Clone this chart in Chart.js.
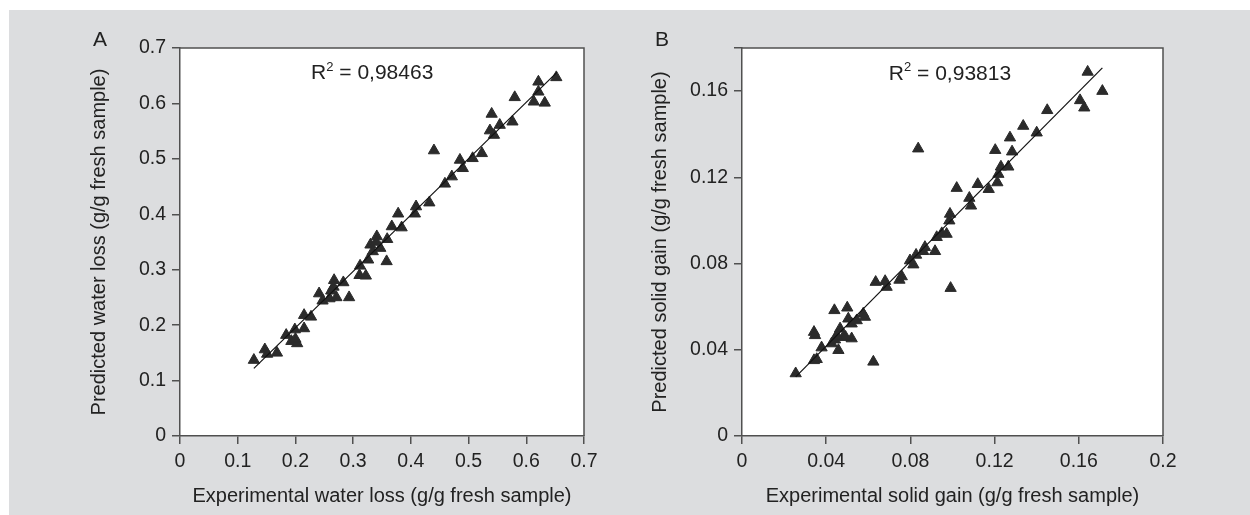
<!DOCTYPE html>
<html>
<head>
<meta charset="utf-8">
<script src="https://cdn.jsdelivr.net/npm/chart.js@4.4.0/dist/chart.umd.min.js"></script>
<style>
  html, body { margin: 0; padding: 0; background: #fff; }
  #bg { position: absolute; left: 9px; top: 10px; width: 1241px; height: 505px; background: #dcdddf; }
  .box { position: absolute; top: 0; width: 625px; height: 515px; }
</style>
</head>
<body>
<div id="bg"></div>
<div class="box" style="left:0"><canvas id="chartA" width="625" height="515"></canvas></div>
<div class="box" style="left:625px"><canvas id="chartB" width="625" height="515"></canvas></div>
<script>
// panel A: water loss
var waterExp = [0.128, 0.147, 0.151, 0.168, 0.184, 0.199, 0.193, 0.203, 0.215, 0.215, 0.227, 0.241, 0.247, 0.259,
  0.267, 0.266, 0.271, 0.283, 0.293, 0.312, 0.311, 0.322, 0.326, 0.330, 0.341, 0.334, 0.347, 0.359, 0.358, 0.367,
  0.378, 0.384, 0.407, 0.409, 0.432, 0.440, 0.459, 0.471, 0.485, 0.490, 0.507, 0.523, 0.537, 0.540, 0.544, 0.554,
  0.576, 0.580, 0.613, 0.621, 0.621, 0.632, 0.652, 0.340, 0.200, 0.262];
var waterPred = [0.137, 0.156, 0.148, 0.150, 0.182, 0.192, 0.171, 0.167, 0.194, 0.218, 0.215, 0.257, 0.244, 0.248,
  0.281, 0.269, 0.250, 0.277, 0.250, 0.307, 0.290, 0.289, 0.318, 0.345, 0.360, 0.333, 0.339, 0.355, 0.315, 0.378,
  0.401, 0.376, 0.401, 0.414, 0.421, 0.515, 0.455, 0.468, 0.498, 0.483, 0.501, 0.510, 0.551, 0.581, 0.543, 0.561,
  0.567, 0.611, 0.603, 0.639, 0.621, 0.601, 0.647, 0.350, 0.175, 0.262];
var waterFitX = [0.128, 0.653];
var waterFitY = [0.122, 0.656];
var waterTicksX = [0, 0.1, 0.2, 0.3, 0.4, 0.5, 0.6, 0.7];
var waterTicksY = [0, 0.1, 0.2, 0.3, 0.4, 0.5, 0.6, 0.7];

// panel B: solid gain
var solidExp = [0.0255, 0.0342, 0.0355, 0.0342, 0.0347, 0.0378, 0.0439, 0.0426, 0.0442, 0.0458, 0.0466, 0.0481,
  0.0500, 0.0505, 0.0521, 0.0521, 0.0545, 0.0576, 0.0584, 0.0624, 0.0635, 0.0680, 0.0687, 0.0748, 0.0759, 0.0798,
  0.0814, 0.0837, 0.0827, 0.0861, 0.0869, 0.0917, 0.0925, 0.0949, 0.0972, 0.0985, 0.0988, 0.0991, 0.1020, 0.1080,
  0.1088, 0.1120, 0.1172, 0.1213, 0.1218, 0.1230, 0.1265, 0.1203, 0.1283, 0.1273, 0.1336, 0.1400, 0.1450, 0.1606,
  0.1626, 0.1642, 0.1712, 0.0450, 0.0492];
var solidPred = [0.0290, 0.0351, 0.0356, 0.0482, 0.0467, 0.0410, 0.0583, 0.0429, 0.0447, 0.0398, 0.0498, 0.0459,
  0.0595, 0.0544, 0.0452, 0.0521, 0.0536, 0.0567, 0.0552, 0.0344, 0.0714, 0.0718, 0.0691, 0.0724, 0.0740, 0.0814,
  0.0795, 0.1333, 0.0840, 0.0857, 0.0876, 0.0857, 0.0922, 0.0940, 0.0937, 0.0999, 0.1030, 0.0686, 0.1150, 0.1104,
  0.1068, 0.1168, 0.1145, 0.1176, 0.1215, 0.1249, 0.1249, 0.1326, 0.1319, 0.1384, 0.1438, 0.1407, 0.1511, 0.1557,
  0.1523, 0.1689, 0.1600, 0.0467, 0.0459];
var solidFitX = [0.0255, 0.1712];
var solidFitY = [0.0274, 0.1708];
var solidTicksX = [0, 0.04, 0.08, 0.12, 0.16, 0.2];
var solidTicksY = [0, 0.04, 0.08, 0.12, 0.16];
var solidMaxY = 0.18;

var textColor = '#222';
var axisColor = '#505050';
var markColor = '#2b2b2b';

Chart.defaults.font.family = '"Liberation Sans", Arial, sans-serif';

function pairs(xs, ys) {
  return xs.map(function (x, i) { return { x: x, y: ys[i] }; });
}

function fmt(v) {
  return v === 0 ? '0' : String(+v.toFixed(2));
}

var framePlugin = {
  id: 'frame',
  beforeDraw: function (chart) {
    var a = chart.chartArea, ctx = chart.ctx;
    ctx.save();
    ctx.fillStyle = '#fff';
    ctx.fillRect(a.left, a.top, a.right - a.left, a.bottom - a.top);
    ctx.restore();
  },
  afterDraw: function (chart) {
    var a = chart.chartArea, ctx = chart.ctx, o = chart.options.plugins.frame;
    ctx.save();
    ctx.strokeStyle = axisColor;
    ctx.lineWidth = 1.5;
    ctx.beginPath();
    ctx.moveTo(a.left, a.top);
    ctx.lineTo(a.right, a.top);
    ctx.lineTo(a.right, a.bottom);
    ctx.stroke();

    ctx.fillStyle = textColor;
    ctx.textBaseline = 'middle';
    ctx.textAlign = 'center';
    ctx.font = '21px "Liberation Sans"';
    ctx.fillText(o.letter, a.left - 80, a.top - 8);

    // R² label
    var px = chart.scales.x.getPixelForValue(o.r2At[0]);
    var py = chart.scales.y.getPixelForValue(o.r2At[1]);
    var big = '21px "Liberation Sans"', small = '13px "Liberation Sans"';
    var rest = ' = ' + o.r2;
    ctx.font = big;
    var wR = ctx.measureText('R').width, wRest = ctx.measureText(rest).width;
    ctx.font = small;
    var w2 = ctx.measureText('2').width;
    var x0 = px - (wR + w2 + wRest) / 2;
    ctx.textAlign = 'left';
    ctx.font = big;
    ctx.fillText('R', x0, py);
    ctx.font = small;
    ctx.fillText('2', x0 + wR, py - 6);
    ctx.font = big;
    ctx.fillText(rest, x0 + wR + w2, py);
    ctx.restore();
  }
};

function axis(ticks, labelled, max, title, titlePad, size) {
  return {
    type: 'linear',
    min: 0,
    max: max,
    afterBuildTicks: function (s) {
      s.ticks = ticks.map(function (v) { return { value: v }; });
    },
    afterFit: function (s) {
      if (s.isHorizontal()) s.height = size; else s.width = size;
    },
    ticks: {
      color: textColor,
      font: { size: 19.5 },
      padding: 6,
      autoSkip: false,
      maxRotation: 0,
      callback: function (v) { return labelled.indexOf(v) < 0 ? '' : fmt(v); }
    },
    grid: { drawOnChartArea: false, drawTicks: true, tickLength: 8, color: axisColor, lineWidth: 1.5 },
    border: { display: true, color: axisColor, width: 1.5 },
    title: { display: true, text: title, color: textColor, font: { size: 20 }, padding: titlePad }
  };
}

function makeChart(id, cfg) {
  return new Chart(document.getElementById(id), {
    type: 'scatter',
    data: {
      datasets: [
        {
          data: pairs(cfg.fitX, cfg.fitY),
          showLine: true,
          borderColor: '#111',
          borderWidth: 1.2,
          pointRadius: 0
        },
        {
          data: pairs(cfg.xs, cfg.ys),
          pointStyle: 'triangle',
          pointRadius: 6.5,
          pointBackgroundColor: markColor,
          pointBorderColor: markColor,
          pointBorderWidth: 1
        }
      ]
    },
    options: {
      responsive: false,
      animation: false,
      layout: { padding: { left: 0, top: 48, right: cfg.padRight, bottom: 0 } },
      scales: {
        x: axis(cfg.ticksX, cfg.ticksX, cfg.maxX, cfg.titleX, { top: 0, bottom: 7 }, 79),
        y: axis(cfg.ticksY, cfg.labelsY, cfg.maxY, cfg.titleY, { top: cfg.titlePadY, bottom: 0 }, cfg.yWidth)
      },
      plugins: {
        legend: { display: false },
        tooltip: { enabled: false },
        frame: { letter: cfg.letter, r2: cfg.r2, r2At: cfg.r2At }
      }
    },
    plugins: [framePlugin]
  });
}

makeChart('chartA', {
  xs: waterExp, ys: waterPred, fitX: waterFitX, fitY: waterFitY,
  ticksX: waterTicksX, ticksY: waterTicksY, labelsY: waterTicksY,
  maxX: 0.7, maxY: 0.7,
  titleX: 'Experimental water loss (g/g fresh sample)',
  titleY: 'Predicted water loss (g/g fresh sample)',
  yWidth: 180, titlePadY: 87, padRight: 41,
  letter: 'A', r2: '0,98463', r2At: [0.333, 0.655]
});

makeChart('chartB', {
  xs: solidExp, ys: solidPred, fitX: solidFitX, fitY: solidFitY,
  ticksX: solidTicksX, ticksY: solidTicksY.concat([solidMaxY]), labelsY: solidTicksY,
  maxX: 0.2, maxY: solidMaxY,
  titleX: 'Experimental solid gain (g/g fresh sample)',
  titleY: 'Predicted solid gain (g/g fresh sample)',
  yWidth: 117, titlePadY: 23, padRight: 87,
  letter: 'B', r2: '0,93813', r2At: [0.0988, 0.168]
});
</script>
</body>
</html>
